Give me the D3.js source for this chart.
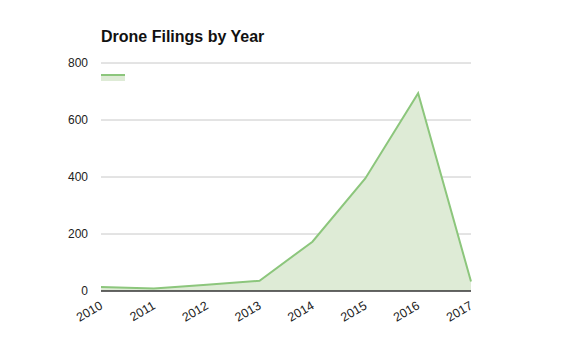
<!DOCTYPE html>
<html>
<head>
<meta charset="utf-8">
<script src="https://cdn.jsdelivr.net/npm/d3@7"></script>
<style>
  html, body { margin: 0; padding: 0; background: #fff; }
  svg { display: block; font-family: "Liberation Sans", Arial, Helvetica, sans-serif; }
</style>
</head>
<body>
<svg id="chart" width="562" height="347"></svg>
<script>
// Drone filings per year
const years = [2010, 2011, 2012, 2013, 2014, 2015, 2016, 2017];
const filings = [14, 9, 22, 36, 173, 395, 694, 33];
const yTicks = [0, 200, 400, 600, 800];

const margin = { top: 63, right: 91, bottom: 56, left: 101 };
const width = 562, height = 347;
const svg = d3.select("#chart");

const x = d3.scalePoint().domain(years).range([margin.left, width - margin.right]);
const y = d3.scaleLinear().domain([0, 800]).range([height - margin.bottom, margin.top]);

const data = years.map((yr, i) => ({ year: yr, value: filings[i] }));

// gridlines
svg.append("g")
  .selectAll("line")
  .data(yTicks.slice(1))
  .join("line")
  .attr("x1", margin.left).attr("x2", width - margin.right)
  .attr("y1", d => y(d)).attr("y2", d => y(d))
  .attr("stroke", "#c8c8c8").attr("stroke-width", 1);

// area + line
const area = d3.area().x(d => x(d.year)).y0(y(0)).y1(d => y(d.value));
const line = d3.line().x(d => x(d.year)).y(d => y(d.value));

svg.append("path").datum(data).attr("d", area).attr("fill", "#deebd6");
svg.append("path").datum(data).attr("d", line)
  .attr("fill", "none").attr("stroke", "#8cc67c").attr("stroke-width", 2)
  .attr("stroke-linejoin", "miter");

// baseline
svg.append("line")
  .attr("x1", margin.left).attr("x2", width - margin.right)
  .attr("y1", y(0)).attr("y2", y(0))
  .attr("stroke", "#333").attr("stroke-width", 1.5);

// y axis labels
const yAxis = d3.axisLeft(y).tickValues(yTicks).tickSize(0).tickPadding(13);
const gy = svg.append("g").attr("transform", `translate(${margin.left},0)`).call(yAxis);
gy.select(".domain").remove();
gy.selectAll("text").attr("font-size", 12).attr("fill", "#222")
  .attr("font-family", "Liberation Sans, Arial, sans-serif");

// x axis labels, rotated
const xAxis = d3.axisBottom(x).tickSize(0).tickPadding(0);
const gx = svg.append("g").attr("transform", `translate(0,${y(0)})`).call(xAxis);
gx.select(".domain").remove();
gx.selectAll("text")
  .attr("font-size", 12.5).attr("fill", "#222")
  .attr("font-family", "Liberation Sans, Arial, sans-serif")
  .attr("text-anchor", "end")
  .attr("dy", 0)
  .attr("transform", "translate(2,17) rotate(-30)");

// title
svg.append("text")
  .attr("x", margin.left).attr("y", 42)
  .attr("font-size", 16).attr("font-weight", "bold").attr("fill", "#111")
  .text("Drone Filings by Year");

// legend swatch
const lg = svg.append("g");
lg.append("rect").attr("x", margin.left).attr("y", 75).attr("width", 24).attr("height", 6).attr("fill", "#deebd6");
lg.append("rect").attr("x", margin.left).attr("y", 74).attr("width", 24).attr("height", 2).attr("fill", "#8cc67c");
</script>
</body>
</html>
